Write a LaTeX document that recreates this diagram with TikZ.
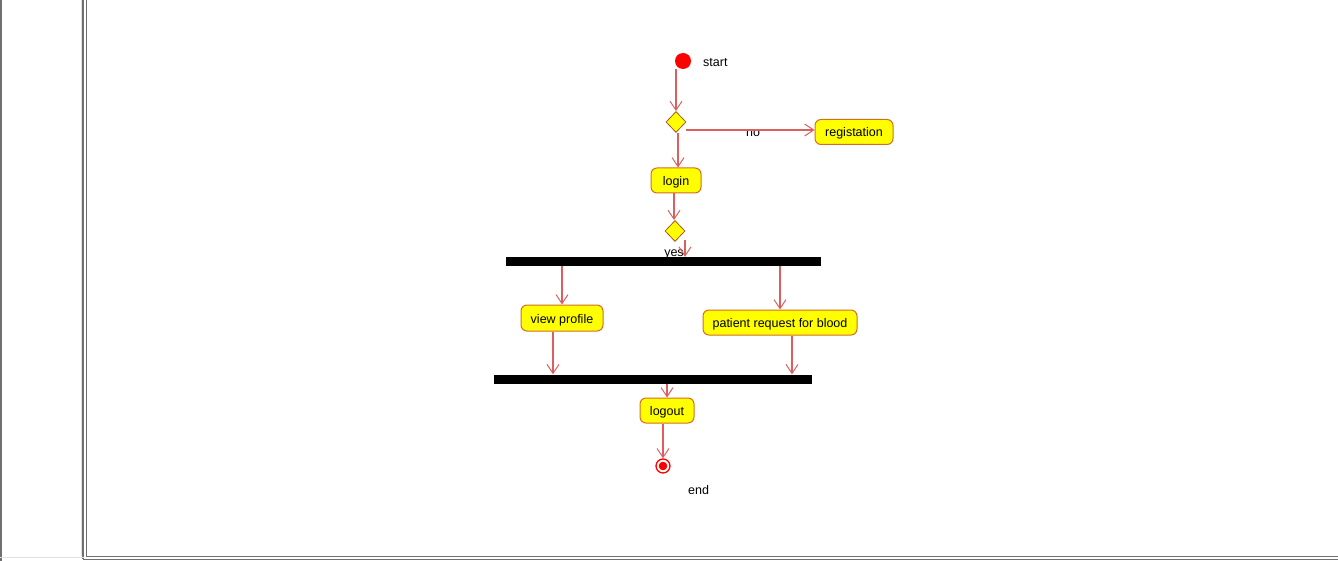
\documentclass[tikz,border=0pt]{standalone}
\usepackage{fontspec}
\setmainfont{Liberation Sans}
\usetikzlibrary{arrows.meta,shapes.geometric,calc}
\definecolor{flowred}{RGB}{220,95,95}
\definecolor{boxedge}{RGB}{212,110,30}
\definecolor{actyellow}{RGB}{255,255,0}
\definecolor{framegray}{RGB}{112,112,112}
\definecolor{framelight}{RGB}{225,225,225}
\begin{document}
\begin{tikzpicture}[x=1pt,y=-1pt,
  every node/.style={font=\fontsize{12.5}{14}\selectfont},
  actbox/.style={draw=boxedge,fill=actyellow,line width=1pt,rounded corners=6pt,
    minimum height=25pt,inner xsep=0pt,inner ysep=0pt,text height=10pt,text depth=0pt},
  decision/.style={diamond,draw=boxedge!80!black,fill=actyellow,line width=0.8pt,
    minimum width=20pt,minimum height=21pt,inner sep=0pt},
  syncbar/.style={fill=black,minimum height=9pt,inner sep=0pt},
  flow/.style={draw=flowred,line width=1.1pt,
    -{Straight Barb[length=9pt,width=12pt,line width=1pt]}},
  plain/.style={inner sep=0pt,font=\fontsize{12.5}{14}\selectfont}]
% canvas and window frame
\useasboundingbox (0,0) rectangle (1338,561);
\fill[white] (0,0) rectangle (1338,561);
\draw[framegray,line width=2pt] (1,0) -- (1,561);
\draw[framelight,line width=1pt] (81,0) -- (81,556);
\draw[framegray,line width=1.2pt] (83,0) -- (83,559);
\draw[framegray,line width=1.2pt] (86.5,0) -- (86.5,556.5) -- (1338,556.5);
\draw[framelight,line width=1pt] (0,557) -- (84,557);
\draw[framegray,line width=1.2pt] (83,559.5) -- (1338,559.5);

% nodes
\node[circle,fill=red,minimum size=16pt,inner sep=0pt] (start) at (683,61) {};
\node[plain,anchor=west] (startlbl) at (703,63) {start};
\node[decision] (d1) at (676,122) {};
\node[actbox,minimum width=78pt] (reg) at (854,132) {registation};
\node[plain] (nolbl) at (753,133) {no};
\node[actbox,minimum width=50pt] (login) at (676,180.5) {login};
\node[decision] (d2) at (675,231) {};
\node[syncbar,minimum width=315pt] (fork) at (663.5,261.5) {};
\node[plain,anchor=north] (yeslbl) at (674,250) {yes};
\node[actbox,minimum width=82pt,minimum height=26pt] (vp) at (562,318) {view profile};
\node[actbox,minimum width=154pt] (pr) at (780,322.5) {patient request for blood};
\node[syncbar,minimum width=318pt] (join) at (653,379) {};
\node[actbox,minimum width=54pt] (logout) at (667,410.5) {logout};
\node[circle,draw=red,line width=1.3pt,fill=white,minimum size=14pt,inner sep=0pt] (end) at (663,466) {};
\fill[red] (end.center) circle (4.3pt);
\node[plain,anchor=west] (endlbl) at (688,490) {end};

% the fork bar lies over the lower part of the "yes" label
\node[syncbar,minimum width=315pt] at (fork) {};

% control flow
\coordinate (noout) at (686,130);
\coordinate (yesout) at (685,240);
\draw[flow] (start.south -| d1.north) -- (d1.north);
\draw[flow] (noout) -- (noout -| reg.west);
\draw[flow] ([xshift=2pt]d1.south) -- ([xshift=2pt]d1.south |- login.north);
\draw[flow] ([xshift=-2pt]login.south) -- ([xshift=-2pt]login.south |- d2.north);
\draw[flow] (yesout) -- (yesout |- fork.north);
\draw[flow] (fork.south -| vp.north) -- (vp.north);
\draw[flow] (fork.south -| pr.north) -- (pr.north);
\draw[flow] ([xshift=-9pt]vp.south) -- ([xshift=-9pt]vp.south |- join.north);
\draw[flow] ([xshift=12pt]pr.south) -- ([xshift=12pt]pr.south |- join.north);
\draw[flow] (join.south -| logout.north) -- (logout.north);
\draw[flow] ([xshift=-4pt]logout.south) -- ([xshift=-4pt]logout.south |- end.north);
\end{tikzpicture}
\end{document}
